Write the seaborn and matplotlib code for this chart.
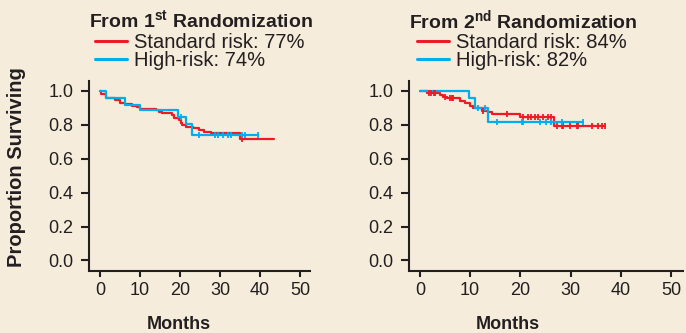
import numpy as np
import pandas as pd
import matplotlib.pyplot as plt
import seaborn as sns
from matplotlib.lines import Line2D
from matplotlib.ticker import StrMethodFormatter

# Kaplan-Meier curves (months, proportion surviving)
# From 1st randomization
std1_t = [0, 0.3, 1.5, 3.8, 5.0, 6.3, 8.0, 9.3, 10.1, 13.9, 14.7, 15.6, 18.1, 18.5,
          19.8, 20.2, 20.6, 21.5, 23.2, 24.8, 26.1, 27.8, 34.9]
std1_s = [1.0, 0.985, 0.957, 0.947, 0.931, 0.921, 0.911, 0.903, 0.895, 0.888, 0.878, 0.868,
          0.858, 0.838, 0.828, 0.813, 0.799, 0.789, 0.779, 0.769, 0.759, 0.750, 0.714]
std1_end = 43.4
std1_cens = [35.5]

high1_t = [0, 1.5, 6.3, 10.1, 19.6, 21.5, 23.1]
high1_s = [1.0, 0.96, 0.92, 0.89, 0.845, 0.805, 0.74]
high1_end = 39.6
high1_cens = [20.2, 24.7, 28.7, 29.5, 30.8, 32.0, 32.8, 35.4, 36.2, 39.6]

# From 2nd randomization
std2_t = [0, 1.3, 4.0, 4.6, 5.3, 8.0, 9.0, 10.0, 10.6, 12.3, 13.6, 14.3, 19.9, 26.6]
std2_s = [1.0, 0.99, 0.976, 0.963, 0.957, 0.943, 0.927, 0.913, 0.897, 0.884, 0.874, 0.864,
          0.848, 0.793]
std2_end = 36.9
std2_cens = [1.7, 2.1, 2.7, 3.0, 5.0, 6.0, 6.3, 6.6, 12.5, 17.3, 20.6, 21.6, 22.2, 22.9,
             23.6, 24.6, 25.6, 26.2, 27.2, 28.2, 28.5, 29.9, 31.2, 31.5, 34.2, 35.5, 36.2, 36.9]

high2_t = [0, 9.8, 11.0, 13.5]
high2_s = [1.0, 0.957, 0.897, 0.818]
high2_end = 32.5
high2_cens = [11.6, 12.9, 15.3, 20.3, 20.6, 23.9, 25.2, 26.2, 28.2, 32.5]

titles = ['From 1$^{\\mathbf{st}}$ Randomization', 'From 2$^{\\mathbf{nd}}$ Randomization']
std_labels = ['Standard risk: 77%', 'Standard risk: 84%']
high_labels = ['High-risk: 74%', 'High-risk: 82%']

RED = '#ED1C24'
BLUE = '#00AEEF'
BG = '#F5ECDB'
INK = '#231F20'

W, H = 686, 333

sns.set_theme(style='ticks')
plt.rcParams['font.family'] = ['Liberation Sans', 'DejaVu Sans']
plt.rcParams['mathtext.fontset'] = 'custom'
plt.rcParams['mathtext.rm'] = 'Liberation Sans'
plt.rcParams['mathtext.bf'] = 'Liberation Sans:bold'
plt.rcParams['text.color'] = INK
plt.rcParams['axes.edgecolor'] = INK
plt.rcParams['xtick.color'] = INK
plt.rcParams['ytick.color'] = INK


def km_frame(t, s, end):
    return pd.DataFrame({'month': list(t) + [end], 'surv': list(s) + [s[-1]]})


def cens_frame(t, s, cens):
    idx = np.searchsorted(t, cens, side='right') - 1
    return pd.DataFrame({'month': cens, 'surv': np.array(s)[idx]})


def draw_km(ax, t, s, end, cens, color):
    sns.lineplot(data=km_frame(t, s, end), x='month', y='surv', drawstyle='steps-post',
                 estimator=None, color=color, lw=1.6, ax=ax)
    sns.scatterplot(data=cens_frame(t, s, cens), x='month', y='surv', marker='|', s=20,
                    linewidth=1.3, color=color, ax=ax, zorder=3)


fig = plt.figure(figsize=(W / 100, H / 100), dpi=100, facecolor=BG)

# axes boxes in pixels: left, right, top, bottom
boxes = [(89, 310, 81.5, 270.5), (409, 683, 81.5, 270.5)]
xlims = [(-2.75, 52.5), (-2.19, 52.4)]
curves = [
    (std1_t, std1_s, std1_end, std1_cens, high1_t, high1_s, high1_end, high1_cens),
    (std2_t, std2_s, std2_end, std2_cens, high2_t, high2_s, high2_end, high2_cens),
]
title_x = [201, 523]
legend_x = [95, 417]
months_x = [179, 508]

for i in range(2):
    l, r, top, bot = boxes[i]
    ax = fig.add_axes([l / W, 1 - bot / H, (r - l) / W, (bot - top) / H])
    ax.set_facecolor(BG)
    st, ss, se, sc, ht, hs, he, hc = curves[i]
    draw_km(ax, st, ss, se, sc, RED)
    draw_km(ax, ht, hs, he, hc, BLUE)

    ax.set_xlim(*xlims[i])
    ax.set_ylim(-0.059, 1.056)
    ax.set_xticks(np.arange(0, 51, 10))
    ax.set_yticks(np.arange(0, 1.01, 0.2))
    ax.yaxis.set_major_formatter(StrMethodFormatter('{x:.1f}'))
    sns.despine(ax=ax)
    for sp in ['left', 'bottom']:
        ax.spines[sp].set_linewidth(1.5)
    ax.tick_params(axis='y', length=6, width=1.5, pad=5, labelsize=13)
    ax.tick_params(axis='x', length=4, width=1.5, pad=4, labelsize=13)
    ax.set_xlabel('')
    ax.set_ylabel('')

    fig.text(months_x[i] / W, 1 - 329 / H, 'Months', ha='center', va='baseline',
             fontsize=13, fontweight='bold')
    fig.text(title_x[i] / W, 1 - 20.5 / H, titles[i], ha='center', va='center',
             fontsize=14, fontweight='bold')

    handles = [Line2D([], [], color=RED, lw=2.2), Line2D([], [], color=BLUE, lw=2.2)]
    ax.legend(handles, [std_labels[i], high_labels[i]], loc='upper left',
              bbox_to_anchor=(legend_x[i] / W, 1 - 33 / H), bbox_transform=fig.transFigure,
              frameon=False, fontsize=14.5, handlelength=1.6, handletextpad=0.35,
              labelspacing=-0.05, borderpad=0, borderaxespad=0)

fig.text(17 / W, 1 - 167 / H, 'Proportion Surviving', rotation=90, ha='center', va='center',
         fontsize=14.5, fontweight='bold')

fig.savefig('out.png', dpi=100, facecolor=BG)
